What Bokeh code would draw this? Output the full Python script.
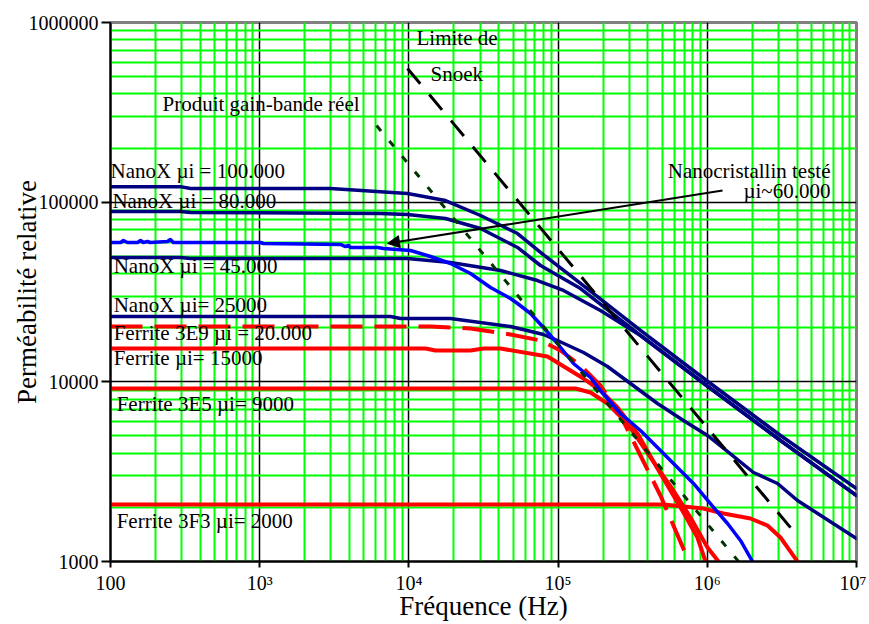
import math
from bokeh.plotting import figure
from bokeh.models import Range1d, FixedTicker, Label, Arrow, NormalHead
from bokeh.embed import file_html
from bokeh.resources import INLINE

# ---------------- data (frequency in Hz, relative permeability) ----------------
nano100_f = [100, 294, 344, 2982, 9786, 17590, 30200, 53460, 76230, 141300, 356500, 988000, 3095000, 10000000]
nano100_mu = [122000, 122000, 119000, 119000, 111700, 102100, 84300, 66900, 52500, 35270, 19310, 10170, 5027, 2549]

nano80_f = [100, 294, 344, 6450, 9786, 17590, 30200, 53460, 76230, 141300, 356500, 988000, 3095000, 10000000]
nano80_mu = [88720, 88720, 87600, 86480, 85370, 81100, 71370, 55940, 44410, 33070, 18110, 9541, 4716, 2330]

nano45_f = [100, 294, 344, 9786, 19000, 41110, 72780, 108600, 192300, 356500, 988000, 3095000, 10000000]
nano45_mu = [49200, 49200, 48580, 48580, 46150, 41650, 36640, 32240, 24950, 18110, 9541, 4716, 2330]

nano25_f = [100, 7527, 8785, 19000, 47970, 79800, 99000, 148000, 214300, 305600, 463500, 691800,
            1003000, 1170000, 2040000, 2955000, 4023000, 10000000]
nano25_mu = [23100, 23100, 22520, 22520, 20320, 18340, 16980, 14560, 12170, 9788, 7574, 6093,
             5027, 4538, 3129, 2718, 2185, 1343]

tested_f = [100, 117, 122, 130, 152, 159, 166, 177, 185, 241, 252, 264, 1012, 1061, 3480, 3758, 3937,
            4061, 6160, 6757, 10250, 13960, 19000, 25880, 35240, 47970, 53460, 65330, 79800, 99000,
            126700, 164900, 192300, 261800, 356500, 463500, 592900, 807600, 1101000, 1366000,
            1669000, 2009000]
tested_mu = [59640, 59640, 61200, 59640, 59640, 61200, 59640, 60400, 59640, 60400, 61980, 59640, 59640,
             58880, 58130, 56650, 57400, 55940, 55940, 55210, 53820, 49840, 45560, 40090, 33500, 29090,
             27290, 24010, 20060, 16340, 12650, 10570, 8949, 6663, 5360, 4310, 3511, 2718, 1998, 1627,
             1309, 1000]

f3e9_f = [100, 13960, 25880, 47970, 76230, 103700, 141300, 192300, 261800, 356500, 485300, 714000]
f3e9_mu = [20320, 20320, 19810, 18340, 16980, 14940, 12330, 9541, 6496, 3890, 2330, 1108]

f15_f = [100, 12920, 15080, 25880, 31620, 41110, 84900, 148000, 192300, 250000, 340500, 463500,
         691800, 859000, 972700]
f15_mu = [15330, 15330, 14940, 14940, 15330, 15330, 13840, 10430, 8949, 7195, 5157, 3293,
          1874, 1360, 1000]

f3e5_f = [100, 130800, 164900, 214300, 291700, 415900, 592900, 771300, 1003000, 1189000]
f3e5_mu = [9182, 9182, 8721, 7574, 5864, 3792, 2484, 1758, 1197, 1000]

f3f3_f = [100, 508200, 941900, 1284000, 1948000, 2532000, 3095000, 3447000, 4023000]
f3f3_mu = [2076, 2076, 1972, 1850, 1735, 1586, 1360, 1197, 1000]

gbw_f = [6070, 1620000]
gbw_mu = [267000, 1000]

snoek_f = [9780, 3900000]
snoek_mu = [555000, 1430]

x_ticks = [100, 1000, 10000, 100000, 1000000, 10000000]
x_tick_labels = ["100", "10³", "10⁴", "10⁵", "10⁶", "10⁷"]
y_ticks = [1000, 10000, 100000, 1000000]
y_tick_labels = ["1000", "10000", "100000", "1000000"]

FONT = "Liberation Serif"

p = figure(width=866, height=623, x_axis_type="log", y_axis_type="log",
           x_range=Range1d(100, 1e7), y_range=Range1d(1000, 1e6),
           output_backend="svg", toolbar_location=None,
           min_border_left=110, min_border_right=10, min_border_top=22, min_border_bottom=62)
p.background_fill_color = "white"
p.border_fill_color = "white"
p.outline_line_color = "#808080"
p.outline_line_width = 3

minor_x = [m * 10 ** k for k in range(2, 7) for m in range(2, 10)]
minor_y = [m * 10 ** k for k in range(3, 6) for m in range(2, 10)]
p.xaxis.ticker = FixedTicker(ticks=x_ticks, minor_ticks=minor_x)
p.yaxis.ticker = FixedTicker(ticks=y_ticks, minor_ticks=minor_y)
p.xaxis.major_label_overrides = dict(zip(x_ticks, x_tick_labels))
p.yaxis.major_label_overrides = dict(zip(y_ticks, y_tick_labels))

for ax in (p.xaxis, p.yaxis):
    ax.axis_line_color = "black"
    ax.axis_line_width = 2
    ax.major_tick_line_color = "black"
    ax.major_tick_line_width = 2
    ax.major_tick_in = 0
    ax.minor_tick_line_color = None
    ax.major_label_text_font = FONT
    ax.major_label_text_font_size = "20px"
    ax.major_label_text_color = "black"
    ax.axis_label_text_font = FONT
    ax.axis_label_text_font_size = "27px"
    ax.axis_label_text_font_style = "normal"
    ax.axis_label_text_color = "black"
p.xaxis.major_tick_out = 6
p.yaxis.major_tick_out = 9
p.xaxis.major_label_standoff = 4
p.yaxis.major_label_standoff = 3
p.xaxis.axis_label = "Fréquence (Hz)"
p.yaxis.axis_label = "Perméabilité relative"
p.xaxis.axis_label_standoff = -6
p.yaxis.axis_label_standoff = -16

for g in (p.xgrid, p.ygrid):
    g.grid_line_color = "black"
    g.grid_line_width = 1.5
    g.minor_grid_line_color = "#00ff00"
    g.minor_grid_line_width = 2
p.xgrid.ticker = p.xaxis.ticker
p.ygrid.ticker = p.yaxis.ticker

NAVY = "#000080"
RED = "#ff0000"
kw = dict(line_join="round", line_cap="round")

p.line(nano100_f, nano100_mu, line_color=NAVY, line_width=3.5, **kw)
p.line(nano80_f, nano80_mu, line_color=NAVY, line_width=3.5, **kw)
p.line(nano45_f, nano45_mu, line_color=NAVY, line_width=3.5, **kw)
p.line(nano25_f, nano25_mu, line_color=NAVY, line_width=3.5, **kw)
p.line(f3f3_f, f3f3_mu, line_color=RED, line_width=4, **kw)
p.line(f3e5_f, f3e5_mu, line_color=RED, line_width=4, **kw)
p.line(f15_f, f15_mu, line_color=RED, line_width=4, **kw)
p.line(f3e9_f, f3e9_mu, line_color=RED, line_width=4, line_dash="32 12", line_join="round")
p.line(tested_f, tested_mu, line_color="#0000ff", line_width=3.5, **kw)
p.line(gbw_f, gbw_mu, line_color="#003300", line_width=3, line_dash="7 13")
p.line(snoek_f, snoek_mu, line_color="black", line_width=3, line_dash="20 14")

p.add_layout(Arrow(end=NormalHead(size=12, fill_color="black", line_color="black"),
                   x_start=1265000, y_start=116100, x_end=7190, y_end=58880,
                   line_color="black", line_width=2))

def lab(x, y, t, align="left", size="21px", **extra):
    p.add_layout(Label(x=x, y=y, text=t, text_font=FONT, text_font_size=size,
                       text_align=align, text_baseline="middle", text_color="black", **extra))

lab(11250, 815000, "Limite de")
lab(13960, 513600, "Snoek")
lab(223, 354000, "Produit gain-bande réel")
lab(100, 150000, "NanoX µi = 100.000")
lab(103, 102100, "NanoX µi = 80.000")
lab(105, 44410, "NanoX µi = 45.000")
lab(105, 26940, "NanoX µi= 25000")
lab(105, 18580, "Ferrite 3E9 µi = 20.000")
lab(105, 13490, "Ferrite µi= 15000")
lab(110, 7574, "Ferrite 3E5 µi= 9000")
lab(110, 1670, "Ferrite 3F3 µi= 2000")
lab(6690000, 148200, "Nanocristallin testé", align="right")
lab(6690000, 116100, "µi~60.000", align="right")

open("out.html", "w").write(file_html(p, INLINE))
